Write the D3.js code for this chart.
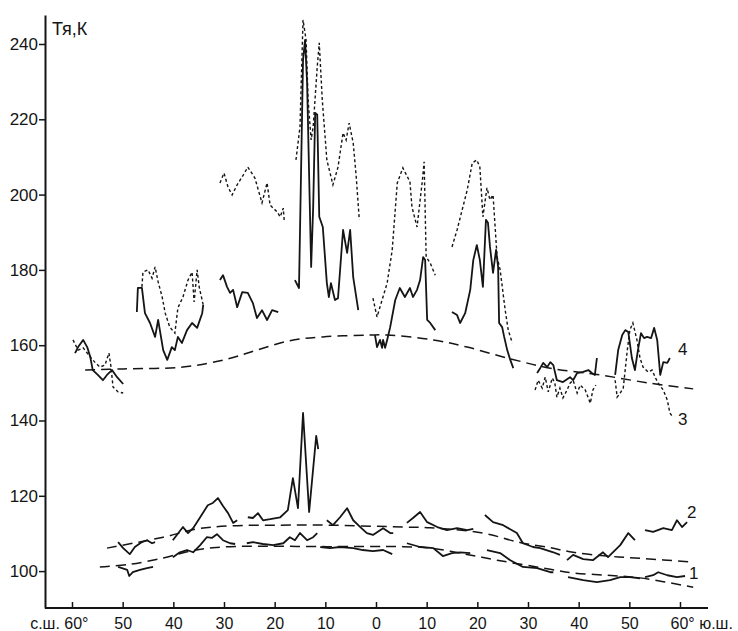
<!DOCTYPE html>
<html>
<head>
<meta charset="utf-8">
<script src="https://cdn.jsdelivr.net/npm/d3@7"></script>
<style>
  body { margin: 0; background: #fff; }
  svg { display: block; font-family: "Liberation Sans", Arial, sans-serif; }
</style>
</head>
<body>
<div id="chart"></div>
<script>
// latitude: north positive, south negative; values [lat, T]
const latTicks = [60, 50, 40, 30, 20, 10, 0, -10, -20, -30, -40, -50, -60];
const tempTicks = [100, 120, 140, 160, 180, 200, 220, 240];

// curve 4 (solid, upper)
const series4 = [
  [[59.4,157.9],[58.8,159.5],[57.8,161.4],[57.0,159.5],[56.4,156.9],[55.9,153.4],[54.9,152.1],[53.9,150.7],[53.1,152.1],[52.1,153.4],[51.1,151.5],[49.9,149.7]],
  [[47.2,168.8],[47.0,175.2],[46.2,175.2],[45.6,168.5],[44.6,165.9],[43.6,162.2],[43.0,166.7],[42.0,158.7],[41.2,156.1],[40.3,159.5],[39.7,158.7],[39.1,162.2],[38.3,160.6],[37.3,164.0],[36.3,165.9],[35.3,164.6],[34.3,168.5],[34.1,170.7]],
  [[30.8,177.3],[30.2,178.6],[29.4,175.5],[28.8,173.9],[28.2,174.7],[27.4,170.1],[26.4,174.1],[25.3,173.9],[24.3,171.2],[23.5,167.2],[22.5,169.3],[21.5,166.7],[20.5,169.3],[19.3,168.8]],
  [[16.0,177.3],[15.2,175.2],[14.4,235.8],[14.0,241.1],[13.6,229.7],[12.8,180.8],[12.4,196.7],[12.0,221.7],[11.6,221.2],[11.2,194.1],[10.5,191.4],[9.7,176.5],[9.3,172.8],[8.9,176.5],[8.1,172.0],[7.5,172.5],[6.5,190.6],[5.7,184.5],[5.1,190.6],[4.5,178.1],[3.5,169.3]],
  [[0.2,162.7],[-0.2,159.5],[-0.8,161.4],[-1.2,159.3],[-1.4,161.4],[-1.8,159.3],[-2.2,161.4],[-2.8,164.8],[-3.8,172.0],[-4.7,175.2],[-5.7,172.8],[-6.7,175.2],[-7.3,172.8],[-8.1,174.7],[-8.7,177.3],[-9.3,183.4],[-9.7,182.6],[-10.1,166.7],[-10.7,165.9],[-11.7,164.0]],
  [[-15.0,168.8],[-16.0,168.0],[-16.6,165.9],[-17.6,168.5],[-18.6,174.7],[-19.2,182.6],[-19.9,186.6],[-20.5,182.6],[-21.1,175.5],[-21.7,193.3],[-22.1,192.5],[-22.5,186.1],[-23.1,179.2],[-23.7,185.3],[-24.1,180.8],[-24.3,165.9],[-24.9,164.8],[-25.3,162.2],[-25.9,158.7],[-26.5,156.1],[-27.1,153.9]],
  [[-31.8,152.6],[-32.4,153.9],[-33.0,155.3],[-33.8,154.2],[-34.4,155.5],[-35.0,154.7],[-35.7,150.7],[-36.9,150.2],[-38.3,151.5],[-38.9,150.7],[-39.7,152.6],[-40.9,152.9],[-41.9,153.4],[-42.6,152.6],[-43.2,152.1],[-43.6,156.6]],
  [[-47.2,152.1],[-47.8,158.7],[-48.6,162.7],[-49.2,164.0],[-49.8,163.5],[-50.5,156.6],[-51.1,153.4],[-51.7,158.7],[-52.3,163.2],[-52.9,161.9],[-53.5,162.2],[-54.3,161.9],[-54.9,164.6],[-55.5,161.4],[-56.1,152.1],[-56.7,155.5],[-57.5,155.3],[-58.0,156.6]]
];

// curve 3 (dotted, upper)
const series3 = [
  [[59.8,161.4],[58.8,158.7],[57.8,159.3],[56.4,156.9],[55.5,155.5],[54.5,154.2],[53.5,154.7],[52.7,157.9],[52.3,154.2],[51.9,148.9],[50.9,147.6],[49.9,147.3]],
  [[46.2,175.5],[46.0,179.4],[45.0,180.0],[44.2,177.8],[43.6,180.8],[43.0,176.8],[42.2,172.8],[41.6,168.5],[40.7,164.8],[39.7,163.2],[39.1,169.9],[38.1,172.8],[37.1,177.3],[36.3,179.4],[35.9,171.5],[35.3,180.0],[34.9,175.5],[34.1,170.7]],
  [[30.8,203.1],[30.0,205.7],[29.2,202.0],[28.4,199.9],[27.4,202.6],[26.2,205.2],[25.3,207.3],[23.9,204.4],[22.5,197.8],[21.5,203.1],[20.9,197.2],[19.5,195.4],[18.9,194.1],[18.3,196.4],[18.1,192.8]],
  [[15.8,209.2],[15.0,218.0],[14.4,246.4],[13.8,241.1],[13.4,225.1],[12.8,214.5],[12.4,218.0],[11.6,233.9],[11.2,240.3],[10.6,225.1],[9.7,209.2],[8.5,202.6],[7.5,207.3],[6.5,216.4],[5.9,214.5],[5.3,219.0],[4.5,213.7],[3.9,204.7],[3.3,193.3]],
  [[0.6,172.5],[-0.2,167.5],[-1.2,172.0],[-2.2,176.5],[-3.2,185.3],[-4.2,203.1],[-5.3,207.1],[-6.7,203.4],[-7.1,196.7],[-8.1,191.4],[-9.1,203.1],[-9.5,208.7],[-9.9,183.4],[-10.7,181.8],[-11.7,178.6]],
  [[-15.0,186.1],[-16.0,190.6],[-17.0,195.9],[-18.0,201.2],[-19.0,208.4],[-19.9,209.2],[-20.5,207.3],[-21.1,194.1],[-21.9,201.8],[-22.5,198.6],[-23.1,199.9],[-23.9,183.4],[-24.5,180.0],[-25.5,169.3],[-26.1,164.0],[-26.9,160.6]],
  [[-31.4,148.1],[-32.0,150.7],[-32.8,148.6],[-33.4,151.5],[-34.0,147.6],[-34.8,151.3],[-35.3,149.9],[-35.7,146.2],[-36.3,148.6],[-36.9,146.0],[-37.7,148.1],[-38.3,149.9],[-38.9,150.7],[-39.7,147.3],[-40.3,149.4],[-41.3,148.1],[-42.3,144.6],[-42.8,148.1],[-43.4,149.4]],
  [[-47.2,150.7],[-47.6,146.2],[-48.2,147.3],[-48.8,148.6],[-49.6,158.7],[-50.1,164.0],[-50.7,165.9],[-51.5,161.4],[-52.1,156.6],[-52.7,154.2],[-53.7,152.9],[-54.5,153.4],[-55.1,151.5],[-55.7,149.9],[-56.7,148.1],[-57.5,145.4],[-58.0,142.0],[-58.6,140.9]]
];

// curve 2 (solid, lower)
const series2 = [
  [[50.9,107.7],[49.9,106.1],[48.6,104.5],[47.6,106.4],[46.2,107.7],[45.2,108.2],[44.2,107.4],[43.6,107.7]],
  [[40.1,108.2],[38.1,111.7],[37.1,110.1],[36.1,111.4],[34.7,114.3],[33.2,117.5],[32.2,118.1],[31.2,119.4],[30.2,117.3],[29.2,115.4],[28.2,112.8],[27.4,113.5]],
  [[25.3,114.3],[24.3,114.1],[23.3,115.4],[22.3,113.5],[20.9,113.8],[18.9,114.3],[17.4,116.2],[16.4,124.7],[15.4,116.7],[14.4,142.0],[13.2,115.7],[11.8,135.9],[11.4,132.4]],
  [[9.7,113.5],[8.5,112.2],[7.1,114.3],[5.7,116.7],[4.5,113.5],[3.1,111.7],[1.8,110.1],[0.6,109.6],[-1.4,111.4],[-2.8,110.1],[-3.4,110.1]],
  [[-6.1,112.8],[-7.3,114.1],[-8.7,115.7],[-10.1,113.0],[-12.1,111.7],[-14.0,110.9],[-16.0,111.4],[-18.0,110.9],[-19.2,111.2]],
  [[-21.5,114.9],[-23.1,113.0],[-25.1,112.2],[-27.8,110.1],[-29.0,107.4],[-31.0,106.4],[-32.4,106.1],[-35.0,105.0],[-36.3,104.3]],
  [[-37.7,102.9],[-38.9,104.3],[-40.9,103.2],[-42.8,102.9],[-44.8,105.0],[-45.8,103.7],[-48.2,106.9],[-49.8,110.1],[-51.1,108.2]],
  [[-53.1,110.9],[-54.7,110.4],[-56.7,111.4],[-58.4,110.9],[-59.4,113.5],[-60.4,111.7],[-61.4,113.0]]
];

// curve 1 (solid, lowest)
const series1 = [
  [[50.9,101.1],[49.1,100.3],[48.7,98.7],[48.0,99.7],[46.6,100.3],[45.2,100.8],[44.0,101.1]],
  [[40.1,103.7],[38.7,105.0],[37.3,105.6],[36.1,105.0],[34.7,106.9],[33.4,109.0],[32.4,108.8],[31.4,109.8],[30.2,108.2],[28.8,107.4],[27.8,107.2]],
  [[25.5,107.4],[24.3,107.7],[22.3,107.2],[20.3,106.9],[18.3,107.4],[17.0,109.0],[16.0,108.2],[15.0,110.1],[13.6,108.2],[12.4,109.0],[11.6,110.1]],
  [[11.0,106.4],[9.1,106.1],[7.1,106.4],[4.5,106.1],[2.6,105.6],[0.6,105.3],[-1.4,105.6],[-3.2,104.5]],
  [[-6.1,107.4],[-8.7,106.4],[-11.3,106.1],[-13.2,104.0],[-15.0,104.8],[-16.6,105.0],[-18.6,104.8]],
  [[-21.9,105.6],[-24.5,104.8],[-26.5,102.9],[-29.0,101.1],[-31.8,100.8],[-34.4,99.7],[-35.0,99.7]],
  [[-37.9,98.4],[-40.9,97.6],[-43.6,97.1],[-46.2,97.6],[-48.2,98.4],[-50.1,98.4],[-52.1,98.1]],
  [[-53.1,98.4],[-54.7,98.9],[-55.7,99.7],[-57.5,98.9],[-59.4,98.4],[-61.0,98.7]]
];

// smooth dashed model curves
const model34 = [[57.4,153.4],[49.9,153.7],[38.1,154.2],[29.4,156.3],[23.5,158.7],[17.0,161.2],[10.5,162.2],[1.2,162.7],[-2.2,162.7],[-11.3,161.4],[-18.0,159.5],[-25.9,156.6],[-34.4,153.9],[-44.2,152.1],[-54.1,149.9],[-62.6,148.4]];
const model2 = [[53.1,106.1],[42.0,109.0],[35.3,111.2],[28.8,112.0],[19.0,112.2],[9.7,112.2],[-5.3,111.7],[-10.7,111.5],[-21.1,110.1],[-28.4,107.6],[-34.4,106.2],[-38.9,105.0],[-45.6,104.0],[-52.1,103.4],[-62.6,102.4]];
const model1 = [[54.5,101.1],[48.6,101.8],[42.0,103.5],[36.7,105.3],[32.2,106.2],[25.5,106.6],[9.7,106.5],[-5.3,106.5],[-10.7,106.1],[-18.5,104.3],[-23.9,102.9],[-34.4,100.5],[-38.9,99.5],[-45.6,98.9],[-52.1,98.2],[-62.6,95.7]];

const curveLabels = [["4", -59.6, 157.4], ["3", -59.6, 138.8], ["2", -61.4, 114.1], ["1", -61.8, 97.9]];

const width = 738, height = 631;
const ink = "#151515";

const svg = d3.select("#chart").append("svg")
    .attr("width", width)
    .attr("height", height);

svg.append("rect").attr("width", width).attr("height", height).attr("fill", "#fff");

let x = d3.scaleLinear().domain([60, -60]).range([72, 680]);
let y = d3.scaleLinear().domain([90.2, 247.7]).range([608, 15]);

// axes
const xAxis = svg.append("g")
    .attr("transform", `translate(0,608)`)
    .call(d3.axisBottom(x).tickValues(latTicks)
      .tickSizeInner(-6).tickSizeOuter(0).tickPadding(10)
      .tickFormat(d => d === 60 ? "с.ш. 60°" : d === -60 ? "60° ю.ш." : Math.abs(d)));
xAxis.select(".domain").remove();
xAxis.selectAll("line").attr("stroke", ink).attr("stroke-width", 1.5);
xAxis.selectAll("text").attr("font-size", 16).attr("fill", ink).attr("font-family", null);
xAxis.selectAll(".tick text").filter(d => d === 60).attr("text-anchor", "end").attr("dx", 16);
xAxis.selectAll(".tick text").filter(d => d === -60).attr("text-anchor", "start").attr("dx", -10);

svg.append("line")
    .attr("x1", 45).attr("x2", 708).attr("y1", 608).attr("y2", 608)
    .attr("stroke", ink).attr("stroke-width", 2);

const yAxis = svg.append("g")
    .attr("transform", `translate(45,0)`)
    .call(d3.axisLeft(y).tickValues(tempTicks).tickSize(6).tickSizeOuter(0).tickPadding(1));
yAxis.select(".domain").attr("stroke", ink).attr("stroke-width", 2);
yAxis.selectAll("line").attr("stroke", ink).attr("stroke-width", 1.5);
yAxis.selectAll("text").attr("font-size", 17).attr("fill", ink).attr("font-family", null);

svg.append("text")
    .attr("x", 52).attr("y", 35)
    .attr("font-size", 18).attr("fill", ink)
    .text("Тя,К");

const line = d3.line().x(d => x(d[0])).y(d => y(d[1]));
const smooth = d3.line().x(d => x(d[0])).y(d => y(d[1])).curve(d3.curveCatmullRom.alpha(0.5));

// dashed model curves
svg.append("g").selectAll("path")
    .data([model34, model2, model1])
    .join("path")
    .attr("d", smooth)
    .attr("fill", "none")
    .attr("stroke", ink)
    .attr("stroke-width", 1.5)
    .attr("stroke-dasharray", "10,6");

// dotted series 3
svg.append("g").selectAll("path")
    .data(series3)
    .join("path")
    .attr("d", line)
    .attr("fill", "none")
    .attr("stroke", ink)
    .attr("stroke-width", 1.4)
    .attr("stroke-dasharray", "3,2.5");

// solid series 4, 2, 1
svg.append("g").selectAll("path")
    .data([...series4, ...series2, ...series1])
    .join("path")
    .attr("d", line)
    .attr("fill", "none")
    .attr("stroke", ink)
    .attr("stroke-width", 1.8)
    .attr("stroke-linejoin", "round");

svg.append("g").selectAll("text")
    .data(curveLabels)
    .join("text")
    .attr("x", d => x(d[1]))
    .attr("y", d => y(d[2]))
    .attr("font-size", 17)
    .attr("fill", ink)
    .text(d => d[0]);
</script>
</body>
</html>
